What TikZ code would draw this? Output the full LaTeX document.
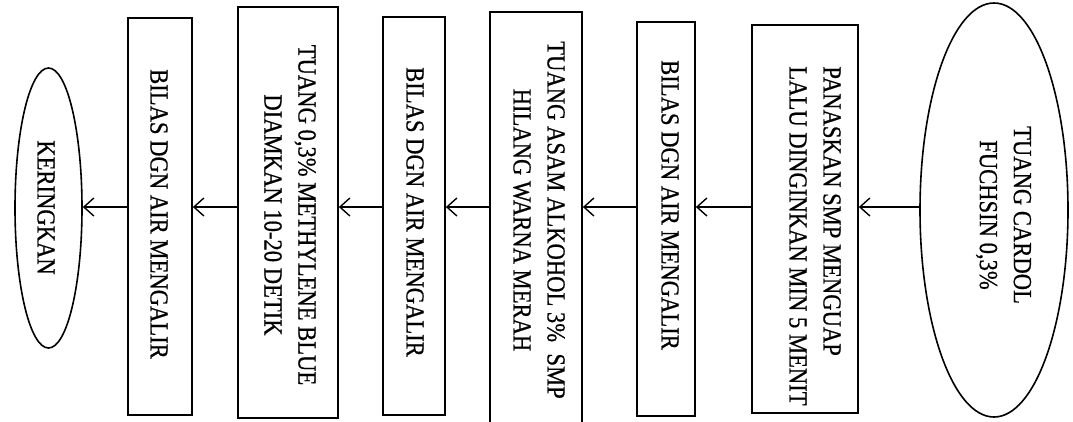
\documentclass[tikz,border=0pt]{standalone}
\usepackage{fontspec}
\setmainfont{Liberation Serif}[FakeStretch=0.87,FakeBold=0.6]
\usetikzlibrary{arrows.meta,shapes.geometric}
\begin{document}
\begin{tikzpicture}[x=1pt,y=-1pt,
  box/.style={draw, line width=1.7pt, rectangle, inner sep=0pt},
  oval/.style={draw, line width=1.6pt, ellipse, inner sep=0pt},
  lbl/.style={rotate=-90, font=\fontsize{26}{34}\selectfont, inner sep=0pt, align=center},
  arr/.style={line width=1.4pt, -{Straight Barb[length=10pt,width=18pt]}}]
\useasboundingbox (0,0) rectangle (1073,421);
\clip (0,0) rectangle (1073,421);
\fill[white] (0,0) rectangle (1073,421);

\node[oval, minimum width=148pt, minimum height=414pt] (e1) at (994,210) {};
\node[box, minimum width=106pt, minimum height=388pt] (b1) at (805,219) {};
\node[box, minimum width=58pt, minimum height=394pt] (b2) at (666,219) {};
\node[box, minimum width=92pt, minimum height=418pt] (b3) at (536,221) {};
\node[box, minimum width=62pt, minimum height=398pt] (b4) at (414,216) {};
\node[box, minimum width=100pt, minimum height=411pt] (b5) at (288,212.5) {};
\node[box, minimum width=64pt, minimum height=397pt] (b6) at (160,216.5) {};
\node[oval, minimum width=67pt, minimum height=280pt] (e2) at (48.5,208) {};

\node[lbl] (t1) at (1003.5,215) {TUANG CARDOL\\FUCHSIN 0,3\%};
\node[lbl, align=left] (t2) at (815,236) {PANASKAN SMP MENGUAP\\LALU DINGINKAN MIN 5 MENIT};
\node[lbl] (t3) at (670,205) {BILAS DGN AIR MENGALIR};
\node[lbl] (t4) at (539,220) {TUANG ASAM ALKOHOL 3\%\ \ SMP\\HILANG WARNA MERAH};
\node[lbl] (t5) at (415,212) {BILAS DGN AIR MENGALIR};
\node[lbl] (t6) at (290,215) {TUANG 0,3\% METHYLENE BLUE\\DIAMKAN 10-20 DETIK};
\node[lbl] (t7) at (159,214) {BILAS DGN AIR MENGALIR};
\node[lbl] (t8) at (46,207.5) {KERINGKAN};

\coordinate (ay) at (0,207);
\draw[arr] (e1.west |- ay) -- (b1.east |- ay);
\draw[arr] (b1.west |- ay) -- (b2.east |- ay);
\draw[arr] (b2.west |- ay) -- (b3.east |- ay);
\draw[arr] (b3.west |- ay) -- (b4.east |- ay);
\draw[arr] (b4.west |- ay) -- (b5.east |- ay);
\draw[arr] (b5.west |- ay) -- (b6.east |- ay);
\draw[arr] (b6.west |- ay) -- (e2.east |- ay);
\end{tikzpicture}
\end{document}
